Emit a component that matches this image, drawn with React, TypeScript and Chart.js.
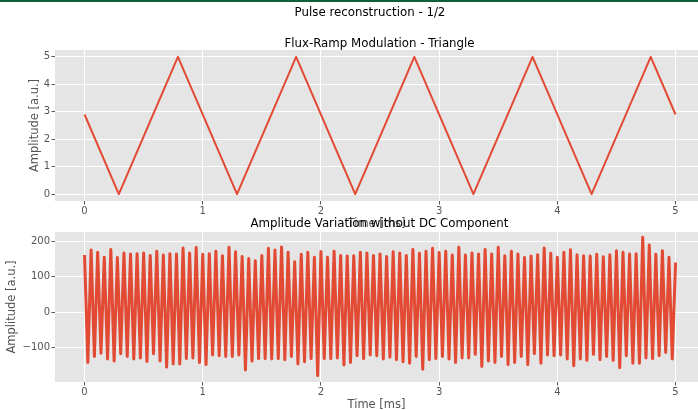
import React, { useEffect, useRef } from "react";
import { Chart, registerables } from "chart.js";

Chart.register(...registerables);

const FONT = "'DejaVu Sans', 'Liberation Sans', sans-serif";
const RED = "#E24A33";
const PANEL = "#E5E5E5";
const INK = "#555555";

// Axis ticks
const timeTicks = [0, 1, 2, 3, 4, 5];
const rampTicks = [0, 1, 2, 3, 4, 5];
const pulseTicks = [-100, 0, 100, 200];

// Flux-ramp triangle: corner times [ms] and amplitudes [a.u.]
const rampTimes = [0, 0.29, 0.79, 1.29, 1.79, 2.29, 2.79, 3.29, 3.79, 4.29, 4.79, 5];
const rampValues = [2.9, 0, 5, 0, 5, 0, 5, 0, 5, 0, 5, 2.9];

// Pulse signal without DC: successive maxima and minima, sampled every 1/36 ms
const sampleStep = 1 / 36;
const pulsePeaks = [
  161, 175, 169, 155, 177, 154, 167, 164, 165, 167, 160, 172, 161, 165, 164, 181, 167, 182,
  163, 165, 172, 159, 183, 170, 157, 151, 145, 160, 180, 175, 184, 169, 142, 163, 169, 155,
  171, 155, 172, 160, 158, 159, 169, 167, 160,
  164, 157, 170, 167, 160, 177, 166, 172, 180, 168, 172, 161, 183, 161, 167, 164, 177, 164,
  183, 159, 172, 164, 154, 158, 162, 181, 166, 155, 169, 176, 162, 159, 158, 163, 156, 162,
  173, 169, 164, 165, 211, 189, 163, 173, 155, 140,
];
const pulseTroughs = [
  -142, -125, -116, -132, -138, -117, -125, -132, -129, -139, -117, -138, -155, -146, -146,
  -131, -129, -142, -148, -121, -123, -125, -125, -121, -163, -138, -131, -131, -132, -131,
  -134, -125, -146, -140, -131, -179, -131, -131, -129, -149, -142, -123, -131, -121, -123,
  -132, -127, -134, -140, -144, -125, -161, -134, -131, -125, -132, -142, -129, -129, -119,
  -153, -138, -142, -125, -148, -142, -125, -148, -117, -144, -121, -123, -121, -132, -151,
  -132, -136, -119, -134, -125, -136, -157, -123, -144, -144, -129, -131, -123, -114, -132,
];

const pulseValues: number[] = [];
pulsePeaks.forEach((p, k) => {
  pulseValues.push(p);
  if (k < pulseTroughs.length) pulseValues.push(pulseTroughs[k]);
});
const pulsePoints = pulseValues.map((v, i) => ({ x: i * sampleStep, y: v }));
const rampPoints = rampTimes.map((t, i) => ({ x: t, y: rampValues[i] }));

const panelBackground = {
  id: "panelBackground",
  beforeDraw(chart: any) {
    const { ctx, chartArea: a } = chart;
    ctx.save();
    ctx.fillStyle = PANEL;
    ctx.fillRect(a.left, a.top, a.right - a.left, a.bottom - a.top);
    ctx.restore();
  },
};

const fmt = (v: number) => (v < 0 ? "\u2212" + Math.abs(v) : String(v));

type PanelSpec = {
  points: { x: number; y: number }[];
  lineWidth: number;
  padTop: number;
  padBottom: number;
  xHeight: number;
  xTitleShift: number;
  yMin: number;
  yMax: number;
  yTicks: number[];
  yTitlePad: number;
};

function buildConfig(spec: PanelSpec): any {
  return {
    type: "line",
    data: {
      datasets: [
        {
          data: spec.points,
          borderColor: RED,
          borderWidth: spec.lineWidth,
          borderJoinStyle: "round",
          pointRadius: 0,
          fill: false,
          tension: 0,
        },
      ],
    },
    plugins: [panelBackground],
    options: {
      animation: false,
      responsive: false,
      events: [],
      layout: { padding: { top: spec.padTop, bottom: spec.padBottom, left: 0, right: 0 } },
      plugins: {
        legend: { display: false },
        tooltip: { enabled: false },
        title: { display: false },
      },
      scales: {
        x: {
          type: "linear",
          min: -0.25,
          max: 5.19,
          afterBuildTicks: (s: any) => {
            s.ticks = timeTicks.map((v) => ({ value: v }));
          },
          afterFit: (s: any) => {
            s.height = spec.xHeight;
          },
          grid: { color: "#FFFFFF", lineWidth: 1, tickColor: INK, tickLength: 3.5 },
          border: { display: false },
          ticks: {
            color: INK,
            font: { family: FONT, size: 10 },
            padding: 1,
            maxRotation: 0,
            autoSkip: false,
            callback: (v: any) => fmt(Number(v)),
          },
          title: {
            display: true,
            text: "Time [ms]",
            color: INK,
            font: { family: FONT, size: 11.5 },
            padding: { top: 0, bottom: -spec.xTitleShift },
          },
        },
        y: {
          type: "linear",
          min: spec.yMin,
          max: spec.yMax,
          afterBuildTicks: (s: any) => {
            s.ticks = spec.yTicks.map((v) => ({ value: v }));
          },
          afterFit: (s: any) => {
            s.width = 55;
          },
          grid: { color: "#FFFFFF", lineWidth: 1, tickColor: INK, tickLength: 3.5 },
          border: { display: false },
          ticks: {
            color: INK,
            font: { family: FONT, size: 10 },
            padding: 1.5,
            autoSkip: false,
            callback: (v: any) => fmt(Number(v)),
          },
          title: {
            display: true,
            text: "Amplitude [a.u.]",
            color: INK,
            font: { family: FONT, size: 11.5 },
            padding: { top: spec.yTitlePad, bottom: 0 },
          },
        },
      },
    },
  };
}

function PanelChart({ spec }: { spec: PanelSpec }) {
  const ref = useRef<HTMLCanvasElement | null>(null);
  useEffect(() => {
    if (!ref.current) return;
    const chart = new Chart(ref.current, buildConfig(spec));
    return () => chart.destroy();
  }, [spec]);
  return (
    <canvas
      ref={ref}
      width={698}
      height={410}
      style={{ position: "absolute", left: 0, top: 0, width: 698, height: 410 }}
    />
  );
}

function Caption({ text, cx, cy }: { text: string; cx: number; cy: number }) {
  return (
    <div
      style={{
        position: "absolute",
        left: cx,
        top: cy,
        transform: "translate(-50%, -50%)",
        whiteSpace: "nowrap",
        fontFamily: FONT,
        fontSize: 11.8,
        lineHeight: "14px",
        color: "#000000",
      }}
    >
      {text}
    </div>
  );
}

const rampSpec: PanelSpec = {
  points: rampPoints,
  lineWidth: 2,
  padTop: 50,
  padBottom: 179,
  xHeight: 30,
  xTitleShift: 0,
  yMin: -0.25,
  yMax: 5.25,
  yTicks: rampTicks,
  yTitlePad: 28,
};

const pulseSpec: PanelSpec = {
  points: pulsePoints,
  lineWidth: 3,
  padTop: 232,
  padBottom: 0,
  xHeight: 28,
  xTitleShift: 2,
  yMin: -197,
  yMax: 226,
  yTicks: pulseTicks,
  yTitlePad: 5.4,
};

export default function App() {
  return (
    <div
      style={{
        position: "absolute",
        left: 0,
        top: 0,
        width: 698,
        height: 410,
        overflow: "hidden",
        background: "#FFFFFF",
      }}
    >
      <div style={{ position: "absolute", left: 0, top: 0, width: 698, height: 2, background: "#0F5E3C" }} />
      <PanelChart spec={rampSpec} />
      <PanelChart spec={pulseSpec} />
      <Caption text="Pulse reconstruction - 1/2" cx={370} cy={12} />
      <Caption text="Flux-Ramp Modulation - Triangle" cx={379.5} cy={43} />
      <Caption text="Amplitude Variation without DC Component" cx={379.5} cy={223} />
    </div>
  );
}
